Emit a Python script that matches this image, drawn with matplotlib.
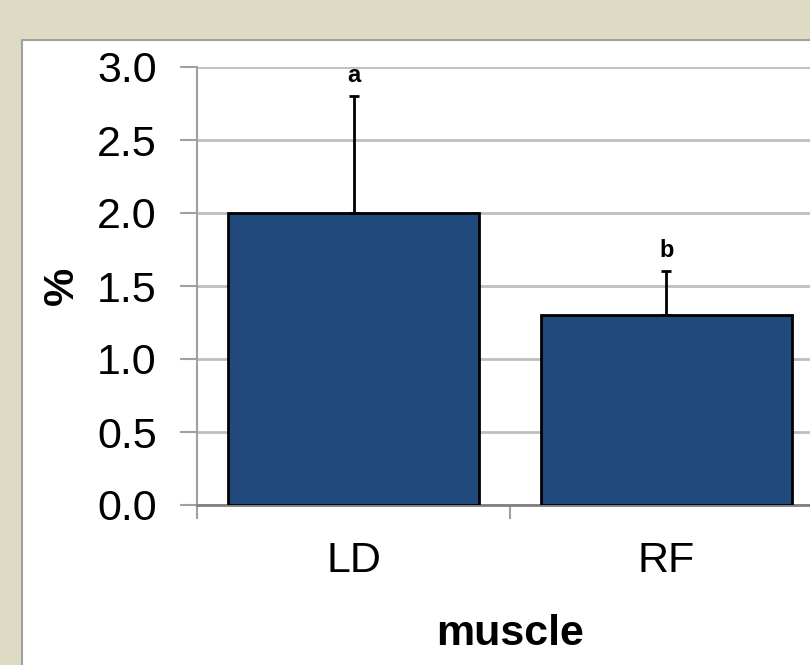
import matplotlib.pyplot as plt
from matplotlib.patches import Rectangle

# data
muscles = ['LD', 'RF']
values = [2.0, 1.3]
errors = [0.8, 0.3]
letters = ['a', 'b']

plt.rcParams['font.family'] = ['Liberation Sans', 'DejaVu Sans']

fig = plt.figure(figsize=(8.1, 6.65), dpi=100)
fig.patch.set_facecolor('#DEDAC4')

# white chart panel with grey border
panel = Rectangle((22 / 810, -0.01), 1.0, 1 - 40 / 665 + 0.01,
                  transform=fig.transFigure, facecolor='white',
                  edgecolor='#A0A0A0', linewidth=1.5, zorder=-1)
fig.patches.append(panel)

ax = fig.add_axes([197 / 810, 160 / 665, 626 / 810, 438 / 665])
ax.patch.set_alpha(0)

x = [0.5, 1.5]
ax.bar(x, values, width=0.8, color='#204A7C', edgecolor='black', linewidth=2, zorder=3)
ax.errorbar(x, values, yerr=[[0, 0], errors], fmt='none', ecolor='black',
            elinewidth=2, capsize=3.6, capthick=2, zorder=4)

for xi, v, e, t in zip(x, values, errors, letters):
    ax.text(xi, v + e + 0.1, t, ha='center', va='baseline', fontsize=17,
            fontweight='bold')

ax.set_xlim(0, 2)
ax.set_ylim(0, 3.0)
ax.set_yticks([0, 0.5, 1.0, 1.5, 2.0, 2.5, 3.0])
ax.set_yticklabels(['0.0', '0.5', '1.0', '1.5', '2.0', '2.5', '3.0'])
ax.yaxis.grid(True, color='#BFBFBF', linewidth=2, zorder=0)
ax.set_axisbelow(True)

ax.set_xticks([0, 1, 2])
ax.set_xticklabels([])
ax.set_xticks(x, minor=True)
ax.set_xticklabels(muscles, minor=True)
ax.tick_params(axis='x', which='minor', length=0, labelsize=31, pad=26)
ax.tick_params(axis='x', which='major', direction='out', length=10, width=1.5,
               color='#A0A0A0')
ax.tick_params(axis='y', direction='out', length=12, width=1.5, color='#A0A0A0',
               labelsize=31, pad=17)

for s in ['top', 'right']:
    ax.spines[s].set_visible(False)
ax.spines['left'].set_color('#A0A0A0')
ax.spines['left'].set_linewidth(1.5)
ax.spines['bottom'].set_color('#808080')
ax.spines['bottom'].set_linewidth(2)

ax.set_xlabel('muscle', fontsize=31, fontweight='bold', labelpad=24)
ax.set_ylabel('%', fontsize=31, fontweight='bold', labelpad=11)

fig.savefig('out.png', dpi=100, facecolor=fig.get_facecolor())
